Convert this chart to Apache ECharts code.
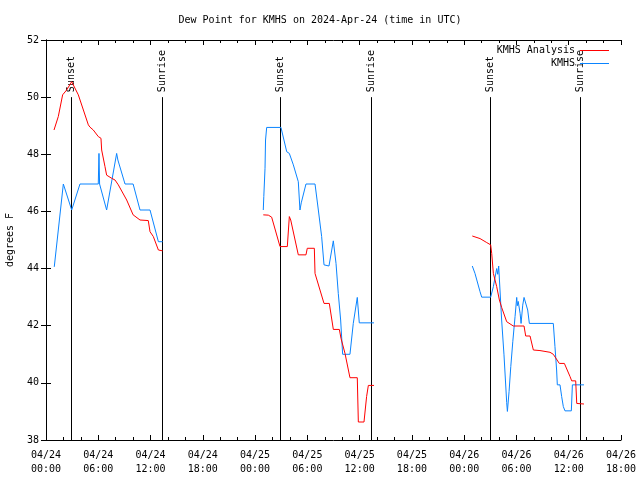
<!DOCTYPE html>
<html>
<head>
<meta charset="utf-8">
<script src="https://cdn.jsdelivr.net/npm/echarts@6/dist/echarts.min.js"></script>
<style>html,body{margin:0;padding:0;background:#fff}#c{width:640px;height:480px}</style>
</head>
<body>
<div id="c"></div>
<script>
// Hours since 2024-04-24 00:00 UTC; null value = gap
var analysisHours = [0.92,1.41,1.91,2.37,2.95,3.14,3.71,4.29,4.86,5.05,5.43,6.0,6.31,6.39,6.77,6.96,7.54,7.92,8.3,9.26,10.0,10.79,11.74,11.94,12.32,12.9,13.39,
  19,
  24.94,25.52,25.9,26.86,27.7,27.93,28.09,28.96,29.84,29.99,30.8,30.88,31.91,32.52,32.98,33.67,33.86,34.32,34.89,35.73,35.85,36.5,36.8,37.0,37.65,
  43,
  48.93,49.82,50.59,51.04,51.16,51.35,51.73,52.04,52.3,52.88,53.07,53.64,54.87,55.06,55.56,55.94,56.7,56.9,57.85,58.23,58.92,59.5,60.15,60.34,60.8,60.92,61.75];
var analysisValues = [48.85,49.32,50.08,50.25,50.54,50.6,50.08,49.55,49.03,48.95,48.85,48.62,48.56,48.15,47.57,47.27,47.16,47.1,46.93,46.4,45.88,45.7,45.68,45.29,45.12,44.65,44.62,
  null,
  45.88,45.87,45.8,44.77,44.77,45.82,45.7,44.48,44.48,44.71,44.71,43.83,42.78,42.78,41.87,41.87,41.56,41.03,40.18,40.18,38.63,38.63,39.52,39.91,39.91,
  null,
  45.14,45.05,44.91,44.83,44.53,43.83,43.37,42.9,42.64,42.14,42.08,41.99,41.99,41.64,41.64,41.15,41.13,41.07,41.07,41.0,40.68,40.68,40.22,40.07,40.07,39.28,39.26];

var obsHours = [0.95,1.99,2.95,3.9,6.0,6.08,6.15,6.96,8.11,8.25,9.07,10.0,10.79,11.94,12.9,13.39,
  19,
  24.94,25.0,25.14,25.2,25.33,26.97,27.63,27.93,28.39,28.96,29.15,29.3,29.84,30.88,31.26,31.64,31.91,32.48,32.98,33.29,33.55,33.82,34.05,34.89,35.27,35.73,35.96,37.65,
  43,
  48.93,49.24,49.82,50.01,51.04,51.35,51.73,51.85,51.96,52.11,52.3,52.57,52.88,52.96,53.15,53.35,53.58,53.84,54.03,54.1,54.2,54.42,54.53,54.72,54.87,55.0,55.29,55.48,58.23,58.42,58.61,58.69,59.0,59.19,59.38,59.57,60.3,60.42,61.75];
var obsValues = [44.06,46.96,46.05,46.96,46.96,48.03,46.96,46.05,48.03,47.8,46.96,46.96,46.05,46.05,44.94,44.94,
  null,
  46.05,46.52,47.51,48.5,48.94,48.94,48.09,48.03,47.63,47.04,46.05,46.3,46.96,46.96,46.05,45.12,44.13,44.09,44.97,44.18,43.13,42.2,41.0,41.0,42.08,42.99,42.1,42.1,
  null,
  44.09,43.83,43.19,43.0,43.0,43.37,44.0,43.8,44.09,43.25,42.2,40.98,39.31,39.0,39.69,40.57,41.44,42.32,42.99,42.7,42.85,42.43,42.08,42.72,42.99,42.99,42.55,42.08,42.08,41.27,40.45,39.93,39.93,39.52,39.17,39.02,39.02,39.93,39.93];

var sunHours = [2.87,13.37,26.86,37.3,50.96,61.3];
var sunLabels = ['Sunset','Sunrise','Sunset','Sunrise','Sunset','Sunrise'];

var xTickLabels = ['04/24\n00:00','04/24\n06:00','04/24\n12:00','04/24\n18:00','04/25\n00:00','04/25\n06:00','04/25\n12:00','04/25\n18:00','04/26\n00:00','04/26\n06:00','04/26\n12:00','04/26\n18:00'];
var yTicks = [38,40,42,44,46,48,50,52];

function zip(a, b) { return a.map(function (h, i) { return [h, b[i]]; }); }

var FONT = 'DejaVu Sans Mono';
var LINE_ICON = 'path://M0,0h29v1h-29z';
var chart = echarts.init(document.getElementById('c'), null, {renderer: 'canvas'});

var xBase = {
  type: 'value', min: 0, max: 66, interval: 6,
  axisLine: {show: true, lineStyle: {color: '#000', width: 1}},
  axisTick: {show: true, inside: true, length: 5, lineStyle: {color: '#000'}},
  minorTick: {show: true, splitNumber: 3, length: 3, lineStyle: {color: '#000'}},
  splitLine: {show: false}
};
var yBase = {
  type: 'value', min: yTicks[0], max: yTicks[yTicks.length - 1], interval: 2,
  axisLine: {show: true, lineStyle: {color: '#000', width: 1}},
  axisTick: {show: true, inside: true, length: 5, lineStyle: {color: '#000'}},
  splitLine: {show: false}
};

chart.setOption({
  animation: false,
  backgroundColor: '#fff',
  title: {
    text: 'Dew Point for KMHS on 2024-Apr-24 (time in UTC)',
    left: 'center', top: 10,
    textStyle: {fontFamily: FONT, fontSize: 10, fontWeight: 'normal', color: '#000'}
  },
  grid: {left: 46, right: 19, top: 40, bottom: 40, containLabel: false, outerBoundsMode: 'none'},
  legend: {
    orient: 'vertical', right: 31, top: 45, align: 'right',
    itemWidth: 29, itemHeight: 10, itemGap: 2, padding: 0,
    symbolKeepAspect: true,
    textStyle: {fontFamily: FONT, fontSize: 10, color: '#000', lineHeight: 11},
    data: [{name: 'KMHS Analysis', icon: LINE_ICON}, {name: 'KMHS', icon: LINE_ICON}]
  },
  xAxis: [
    Object.assign({}, xBase, {
      position: 'bottom',
      axisLabel: {
        show: true, margin: 8, color: '#000', fontFamily: FONT, fontSize: 10, lineHeight: 14,
        showMinLabel: true, showMaxLabel: true, hideOverlap: false,
        formatter: function (v) { return xTickLabels[Math.round(v / 6)]; }
      }
    }),
    Object.assign({}, xBase, {position: 'top', axisLabel: {show: false}})
  ],
  yAxis: [
    Object.assign({}, yBase, {
      position: 'left',
      name: 'degrees F', nameLocation: 'middle', nameGap: 31, nameRotate: 90,
      nameTextStyle: {fontFamily: FONT, fontSize: 10, color: '#000'},
      axisLabel: {show: true, margin: 7, color: '#000', fontFamily: FONT, fontSize: 10}
    }),
    Object.assign({}, yBase, {position: 'right', axisLabel: {show: false}})
  ],
  series: [
    {
      type: 'custom', name: 'sun', xAxisIndex: 0, yAxisIndex: 0, silent: true,
      data: sunHours.map(function (h) { return [h]; }),
      renderItem: function (params, api) {
        var h = api.value(0);
        var p0 = api.coord([h, 38]);
        var p1 = api.coord([h, 50]);
        var x = Math.round(p0[0]) + 0.5;
        return {
          type: 'group',
          children: [
            {type: 'line', shape: {x1: x, y1: p0[1], x2: x, y2: p1[1]}, style: {stroke: '#000', lineWidth: 1}},
            {type: 'text', x: x, y: p1[1] - 5, rotation: Math.PI / 2,
             style: {text: sunLabels[params.dataIndex], fill: '#000', font: '10px ' + FONT, align: 'left', verticalAlign: 'middle'}}
          ]
        };
      },
      z: 1
    },
    {
      type: 'line', name: 'KMHS Analysis', data: zip(analysisHours, analysisValues),
      symbol: 'none', connectNulls: false, color: '#ff0000',
      lineStyle: {color: '#ff0000', width: 1}, z: 3
    },
    {
      type: 'line', name: 'KMHS', data: zip(obsHours, obsValues),
      symbol: 'none', connectNulls: false, color: '#0a84ff',
      lineStyle: {color: '#0a84ff', width: 1}, z: 2
    }
  ]
});
</script>
</body>
</html>
